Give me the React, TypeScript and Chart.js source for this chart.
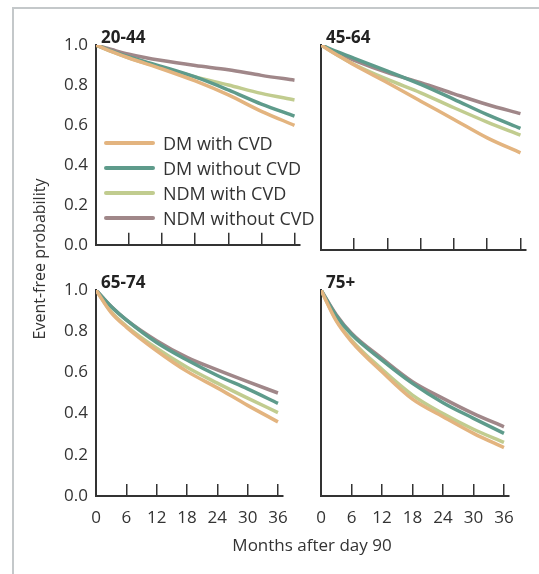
import React, { useEffect, useRef } from "react";
import { Chart, registerables } from "chart.js";
Chart.register(...registerables);

// ---- data ----
const months = [0, 3, 6, 12, 18, 24, 30, 36];
const xTicks = [0, 6, 12, 18, 24, 30, 36];
const yTicks = [0, 0.2, 0.4, 0.6, 0.8, 1.0];
const seriesNames = ["DM with CVD", "DM without CVD", "NDM with CVD", "NDM without CVD"];
const seriesColors = ["#E3B47F", "#5E9B8B", "#C1CC8F", "#A08789"];
const panelLabels = ["20-44", "45-64", "65-74", "75+"];

// age 20-44
const dmCvd2044 = [1, 0.966, 0.935, 0.88, 0.82, 0.75, 0.668, 0.598];
const dmNoCvd2044 = [1, 0.968, 0.94, 0.892, 0.84, 0.775, 0.704, 0.644];
const ndmCvd2044 = [1, 0.965, 0.935, 0.886, 0.84, 0.8, 0.758, 0.725];
const ndmNoCvd2044 = [1, 0.976, 0.954, 0.922, 0.897, 0.876, 0.848, 0.824];
// age 45-64
const dmCvd4564 = [1, 0.95, 0.902, 0.816, 0.726, 0.637, 0.547, 0.474];
const dmNoCvd4564 = [1, 0.966, 0.935, 0.873, 0.808, 0.735, 0.66, 0.593];
const ndmCvd4564 = [1, 0.95, 0.905, 0.832, 0.767, 0.694, 0.624, 0.56];
const ndmNoCvd4564 = [1, 0.96, 0.925, 0.865, 0.816, 0.762, 0.71, 0.665];
// age 65-74
const dmCvd6574 = [1, 0.89, 0.82, 0.705, 0.605, 0.525, 0.44, 0.36];
const dmNoCvd6574 = [1, 0.92, 0.855, 0.745, 0.66, 0.585, 0.52, 0.45];
const ndmCvd6574 = [1, 0.895, 0.825, 0.717, 0.625, 0.548, 0.475, 0.405];
const ndmNoCvd6574 = [1, 0.92, 0.855, 0.754, 0.673, 0.612, 0.555, 0.5];
// age 75+
const dmCvd75 = [1, 0.85, 0.75, 0.603, 0.47, 0.385, 0.304, 0.235];
const dmNoCvd75 = [1, 0.875, 0.785, 0.66, 0.547, 0.453, 0.377, 0.304];
const ndmCvd75 = [1, 0.855, 0.757, 0.615, 0.49, 0.4, 0.324, 0.26];
const ndmNoCvd75 = [1, 0.88, 0.79, 0.668, 0.555, 0.474, 0.4, 0.336];

const FONT = "'Open Sans', 'Noto Sans', sans-serif";
const TEXT = "#333333";
const AXIS = "#333333";

const panelLabelPlugin = {
  id: "panelLabel",
  afterDraw(chart: any, _args: any, opts: any) {
    const { ctx, chartArea } = chart;
    ctx.save();
    ctx.font = `bold 17px ${FONT}`;
    ctx.fillStyle = "#222222";
    ctx.textBaseline = "alphabetic";
    ctx.textAlign = "left";
    ctx.fillText(opts.text, chartArea.left + 5, chartArea.top - 2);
    ctx.restore();
  },
};

type Area = { l: number; t: number; r: number; b: number };

function Panel(props: { label: string; area: Area; showY: boolean; showX: boolean; series: number[][] }) {
  const { label, area, showY, showX, series } = props;
  const ref = useRef<HTMLCanvasElement>(null);
  const yW = 50;
  const padTop = 25;
  const padRight = 12;
  const xH = showX ? 40 : 14;
  const left = area.l - yW;
  const top = area.t - padTop;
  const width = area.r - area.l + yW + padRight;
  const height = area.b - area.t + padTop + xH;

  useEffect(() => {
    const chart = new Chart(ref.current as HTMLCanvasElement, {
      type: "line",
      data: {
        datasets: seriesNames.map((name, i) => ({
          label: name,
          data: months.map((m, j) => ({ x: m, y: series[i][j] })),
          borderColor: seriesColors[i],
          backgroundColor: seriesColors[i],
          borderWidth: 3.5,
          pointRadius: 0,
          cubicInterpolationMode: "monotone" as const,
          fill: false,
        })),
      },
      options: {
        responsive: false,
        animation: false,
        devicePixelRatio: 1,
        layout: { padding: { top: padTop, right: padRight, left: 0, bottom: 0 } },
        plugins: {
          legend: { display: false },
          tooltip: { enabled: false },
          // @ts-ignore
          panelLabel: { text: label },
        },
        scales: {
          x: {
            type: "linear",
            min: 0,
            max: 37,
            afterBuildTicks: (s: any) => {
              s.ticks = xTicks.map((v) => ({ value: v }));
            },
            afterFit: (s: any) => {
              s.height = xH;
            },
            grid: {
              display: true,
              drawOnChartArea: false,
              drawTicks: true,
              tickLength: -12,
              color: AXIS,
              lineWidth: 1.5,
            },
            border: { display: true, color: AXIS, width: 2 },
            ticks: {
              display: showX,
              padding: 24,
              maxRotation: 0,
              font: { family: FONT, size: 17 },
              color: TEXT,
            },
          },
          y: {
            type: "linear",
            min: 0,
            max: 1,
            afterBuildTicks: (s: any) => {
              s.ticks = yTicks.map((v) => ({ value: v }));
            },
            afterFit: (s: any) => {
              s.width = yW;
            },
            grid: { display: false, drawTicks: false },
            border: { display: true, color: AXIS, width: 2 },
            ticks: {
              display: showY,
              padding: 8,
              font: { family: FONT, size: 17 },
              color: TEXT,
              callback: (v: any) => Number(v).toFixed(1),
            },
          },
        },
      },
      plugins: [panelLabelPlugin],
    });
    return () => chart.destroy();
  }, []);

  return (
    <canvas
      ref={ref}
      width={width}
      height={height}
      style={{ position: "absolute", left, top, width, height }}
    />
  );
}

export default function App() {
  const panels = [
    { area: { l: 96, t: 45, r: 300, b: 249 }, showY: true, showX: false, series: [dmCvd2044, dmNoCvd2044, ndmCvd2044, ndmNoCvd2044] },
    { area: { l: 321, t: 45, r: 526, b: 250 }, showY: false, showX: false, series: [dmCvd4564, dmNoCvd4564, ndmCvd4564, ndmNoCvd4564] },
    { area: { l: 96, t: 290, r: 300, b: 496 }, showY: true, showX: true, series: [dmCvd6574, dmNoCvd6574, ndmCvd6574, ndmNoCvd6574] },
    { area: { l: 321, t: 290, r: 526, b: 496 }, showY: false, showX: true, series: [dmCvd75, dmNoCvd75, ndmCvd75, ndmNoCvd75] },
  ];
  const legendRows = [143, 168, 193, 218];
  return (
    <div
      style={{
        position: "fixed",
        left: 0,
        top: 0,
        width: 539,
        height: 574,
        overflow: "hidden",
        background: "#ffffff",
        fontFamily: FONT,
        color: TEXT,
      }}
    >
      <div
        style={{
          position: "absolute",
          left: 12,
          top: 7,
          width: 700,
          height: 700,
          borderTop: "2px solid #c4c8ca",
          borderLeft: "2px solid #c4c8ca",
        }}
      />
      {panels.map((p, i) => (
        <Panel key={i} label={panelLabels[i]} area={p.area} showY={p.showY} showX={p.showX} series={p.series} />
      ))}
      {seriesNames.map((name, i) => (
        <div
          key={name}
          style={{
            position: "absolute",
            left: 104,
            top: legendRows[i] - 10,
            height: 20,
            display: "flex",
            alignItems: "center",
            whiteSpace: "nowrap",
          }}
        >
          <div style={{ width: 51, height: 4, borderRadius: 2, background: seriesColors[i] }} />
          <span style={{ marginLeft: 8, fontSize: 18, lineHeight: "20px" }}>{name}</span>
        </div>
      ))}
      <div
        style={{
          position: "absolute",
          left: 39 - 150,
          top: 259 - 10,
          width: 300,
          height: 20,
          lineHeight: "20px",
          textAlign: "center",
          fontSize: 16,
          transform: "rotate(-90deg)",
          whiteSpace: "nowrap",
        }}
      >
        Event-free probability
      </div>
      <div
        style={{
          position: "absolute",
          left: 312 - 150,
          top: 545 - 10,
          width: 300,
          height: 20,
          lineHeight: "20px",
          textAlign: "center",
          fontSize: 17,
          whiteSpace: "nowrap",
        }}
      >
        Months after day 90
      </div>
    </div>
  );
}
